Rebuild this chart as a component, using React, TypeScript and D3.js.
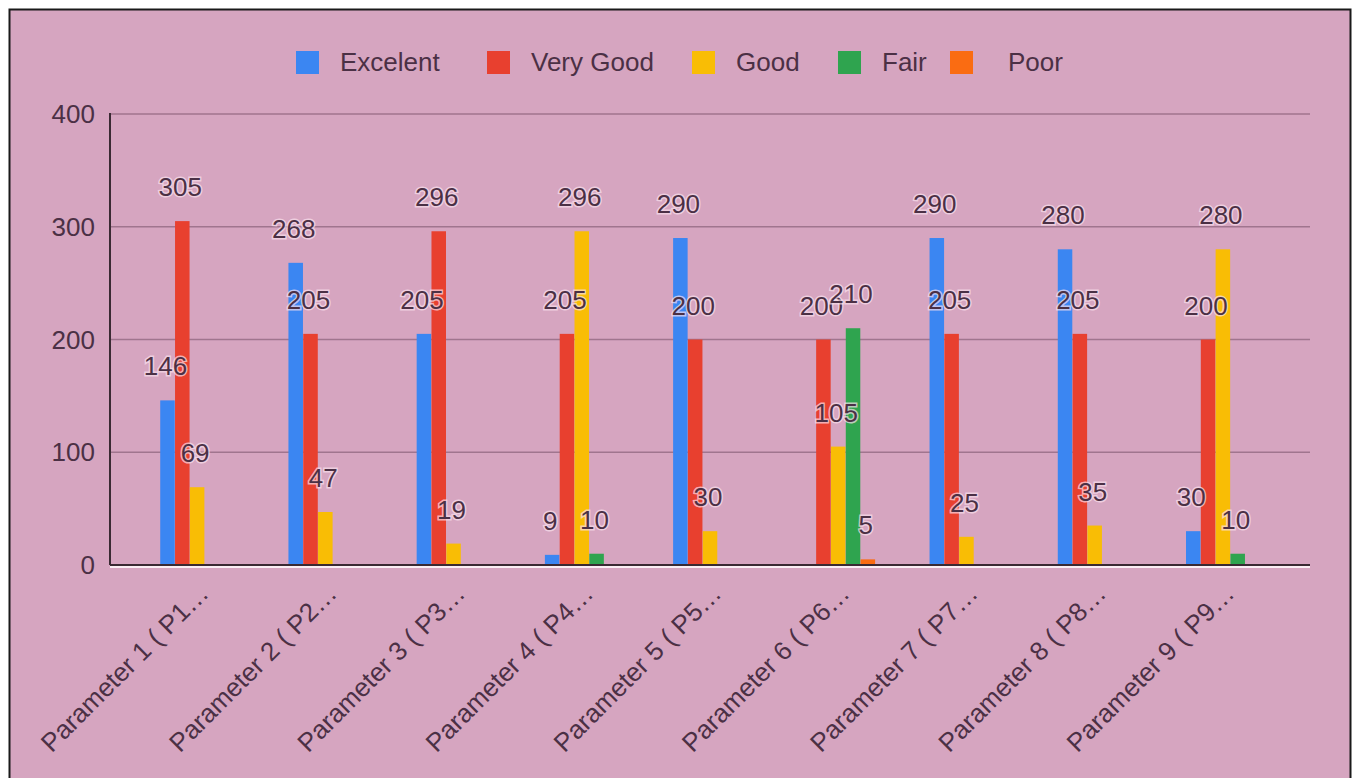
import React, { useEffect, useRef } from 'react';
import * as d3 from 'd3';

const categories = [
  'Parameter 1 ( P1…',
  'Parameter 2 ( P2…',
  'Parameter 3 ( P3…',
  'Parameter 4 ( P4…',
  'Parameter 5 ( P5…',
  'Parameter 6 ( P6…',
  'Parameter 7 ( P7…',
  'Parameter 8 ( P8…',
  'Parameter 9 ( P9…',
];
const seriesNames = ['Excelent', 'Very Good', 'Good', 'Fair', 'Poor'];
const seriesColors = ['#3b86f2', '#e8402f', '#f9bd05', '#2fa44f', '#fa6c12'];
const excelent = [146, 268, 205, 9, 290, 0, 290, 280, 30];
const veryGood = [305, 205, 296, 205, 200, 200, 205, 205, 200];
const good = [69, 47, 19, 296, 30, 105, 25, 35, 280];
const fair = [0, 0, 0, 10, 0, 210, 0, 0, 10];
const poor = [0, 0, 0, 0, 0, 5, 0, 0, 0];
const yTicks = [0, 100, 200, 300, 400];

const W = 1355;
const H = 778;

const App: React.FC = () => {
  const svgRef = useRef<SVGSVGElement | null>(null);

  useEffect(() => {
    if (!svgRef.current) return;
    const svg = d3.select(svgRef.current);
    svg.selectAll('*').remove();

    const series = [excelent, veryGood, good, fair, poor];
    const textColor = '#4b3045';
    const font = 'Liberation Sans, Arial, sans-serif';
    const fs = 26;

    // background frame
    svg.append('rect').attr('width', W).attr('height', H).attr('fill', '#ffffff');
    svg.append('rect')
      .attr('x', 9.5).attr('y', 9.5)
      .attr('width', 1341).attr('height', 800)
      .attr('fill', '#d6a5c0')
      .attr('stroke', '#1a1a1a')
      .attr('stroke-width', 2);

    const plotLeft = 110;
    const plotRight = 1310;
    const y = d3.scaleLinear().domain([0, 400]).range([565, 114]);
    const x0 = d3.scaleBand().domain(categories).range([133, 1287]).padding(0);
    const x1 = d3.scaleBand()
      .domain(seriesNames)
      .range([x0.bandwidth() * 0.21, x0.bandwidth() * 0.79])
      .padding(0.02);

    // gridlines
    svg.append('g')
      .selectAll('line')
      .data(yTicks.filter(t => t > 0))
      .enter()
      .append('line')
      .attr('x1', plotLeft)
      .attr('x2', plotRight)
      .attr('y1', d => y(d))
      .attr('y2', d => y(d))
      .attr('stroke', '#a0758e')
      .attr('stroke-width', 1.5);

    // y tick labels
    svg.append('g')
      .selectAll('text')
      .data(yTicks)
      .enter()
      .append('text')
      .attr('x', 95)
      .attr('y', d => y(d) + 9)
      .attr('text-anchor', 'end')
      .attr('fill', textColor)
      .attr('font-family', font)
      .attr('font-size', fs)
      .text(d => d);

    // bars
    const groups = svg.append('g')
      .selectAll('g')
      .data(categories)
      .enter()
      .append('g')
      .attr('transform', d => `translate(${x0(d)},0)`);

    groups.selectAll('rect')
      .data((_, i) => series.map((s, j) => ({ name: seriesNames[j], value: s[i], color: seriesColors[j] })))
      .enter()
      .append('rect')
      .attr('x', d => x1(d.name) || 0)
      .attr('width', x1.bandwidth())
      .attr('y', d => y(d.value))
      .attr('height', d => y(0) - y(d.value))
      .attr('fill', d => d.color);

    // axis lines
    svg.append('line')
      .attr('x1', plotLeft).attr('x2', plotRight)
      .attr('y1', y(0) + 2).attr('y2', y(0) + 2)
      .attr('stroke', '#fbeef4').attr('stroke-width', 2);
    svg.append('line')
      .attr('x1', plotLeft).attr('x2', plotRight)
      .attr('y1', y(0)).attr('y2', y(0))
      .attr('stroke', '#3a2a33').attr('stroke-width', 2);
    svg.append('line')
      .attr('x1', plotLeft).attr('x2', plotLeft)
      .attr('y1', 113).attr('y2', y(0))
      .attr('stroke', '#3a2a33').attr('stroke-width', 2);

    // value labels
    groups.selectAll('text')
      .data((_, i) => series.map((s, j) => ({ name: seriesNames[j], value: s[i] })).filter(d => d.value > 0))
      .enter()
      .append('text')
      .attr('x', d => (x1(d.name) || 0) + x1.bandwidth() / 2 - 2)
      .attr('y', d => y(d.value) - 25)
      .attr('text-anchor', 'middle')
      .attr('fill', textColor)
      .attr('font-family', font)
      .attr('font-size', fs)
      .attr('stroke', 'rgba(250,225,238,0.7)')
      .attr('stroke-width', 3)
      .attr('paint-order', 'stroke')
      .text(d => d.value);

    // x labels
    svg.append('g')
      .selectAll('text')
      .data(categories)
      .enter()
      .append('text')
      .attr('transform', d => `translate(${(x0(d) || 0) + x0.bandwidth() / 2 + 13},${595}) rotate(-45)`)
      .attr('text-anchor', 'end')
      .attr('fill', textColor)
      .attr('font-family', font)
      .attr('font-size', fs)
      .text(d => d);

    // legend
    const legendX = [296, 487, 692, 838, 950];
    const legend = svg.append('g')
      .selectAll('g')
      .data(seriesNames)
      .enter()
      .append('g')
      .attr('transform', (_, i) => `translate(${legendX[i]},51)`);
    legend.append('rect')
      .attr('width', 23)
      .attr('height', 23)
      .attr('fill', (_, i) => seriesColors[i]);
    legend.append('text')
      .attr('x', (_, i) => (i === 4 ? 58 : 44))
      .attr('y', 20)
      .attr('fill', textColor)
      .attr('font-family', font)
      .attr('font-size', fs)
      .text(d => d);
  }, []);

  return (
    <svg
      ref={svgRef}
      width={W}
      height={H}
      style={{ position: 'absolute', left: 0, top: 0, display: 'block' }}
    />
  );
};

export default App;
